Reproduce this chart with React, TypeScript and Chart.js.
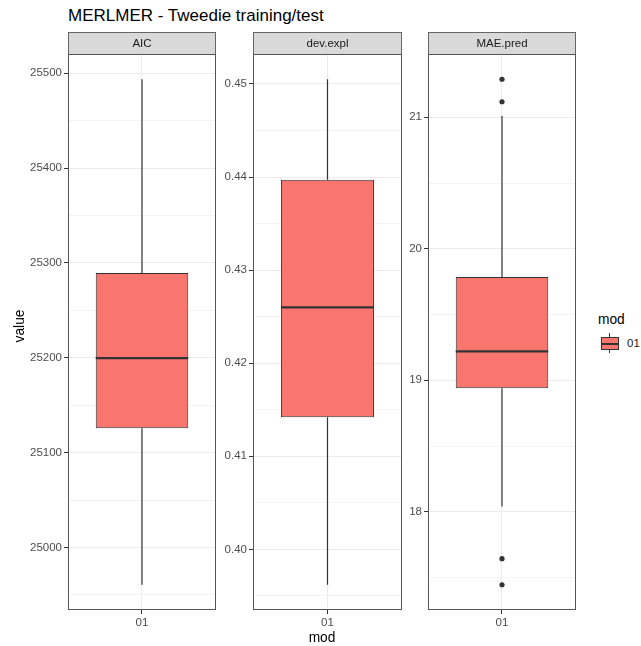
import React, { useEffect, useRef } from 'react';
import { Chart, registerables } from 'chart.js';

Chart.register(...registerables);

// ---------------- data ----------------
const TITLE = 'MERLMER - Tweedie training/test';
const X_TITLE = 'mod';
const Y_TITLE = 'value';
const LEGEND_TITLE = 'mod';
const CATEGORIES = ['01'];
const PANELS = ['AIC', 'dev.expl', 'MAE.pred'];

// [lower whisker, Q1, median, Q3, upper whisker]
const AIC_BOX = [24960.7, 25125.8, 25199.6, 25289.5, 25493.7];
const DEV_BOX = [0.3962, 0.4142, 0.426, 0.4397, 0.4505];
const MAE_BOX = [18.04, 18.94, 19.22, 19.785, 21.01];

const AIC_OUTLIERS: number[] = [];
const DEV_OUTLIERS: number[] = [];
const MAE_OUTLIERS = [17.445, 17.643, 21.118, 21.289];

const AIC_TICKS = [25000, 25100, 25200, 25300, 25400, 25500];
const AIC_MINOR = [24950, 25050, 25150, 25250, 25350, 25450];
const DEV_TICKS = [0.4, 0.41, 0.42, 0.43, 0.44, 0.45];
const DEV_MINOR = [0.395, 0.405, 0.415, 0.425, 0.435, 0.445];
const MAE_TICKS = [18, 19, 20, 21];
const MAE_MINOR = [17.5, 18.5, 19.5, 20.5];
const TICK_DECIMALS = [0, 2, 0];

const BOXES = [AIC_BOX, DEV_BOX, MAE_BOX];
const OUTLIERS = [AIC_OUTLIERS, DEV_OUTLIERS, MAE_OUTLIERS];
const MAJOR_TICKS = [AIC_TICKS, DEV_TICKS, MAE_TICKS];
const MINOR_TICKS = [AIC_MINOR, DEV_MINOR, MAE_MINOR];

// ---------------- layout / style ----------------
const FONT = "'Liberation Sans', Arial, Helvetica, sans-serif";
const FILL = '#F8766D';
const DARK = '#333333';
const PANEL_X = [
  [68, 216],
  [253, 402],
  [428, 577],
];
const PANEL_TOP = 54;
const PANEL_BOTTOM = 610;
const STRIP_H = 22;
const AXIS_W = 54;
const XAXIS_H = 32;
const CANVAS_TOP = 30;
const X_MIN = 0.4;
const X_MAX = 1.6;
const BOX_W = 0.75;
const TICK_FONT = 11.5;

Chart.defaults.font.family = FONT;

const stripPlugin = {
  id: 'strip',
  afterDraw(chart: any, _args: any, opts: any) {
    const { ctx, chartArea: a } = chart;
    const w = a.right - a.left;
    ctx.save();
    ctx.fillStyle = '#d9d9d9';
    ctx.fillRect(a.left, a.top - STRIP_H, w, STRIP_H);
    ctx.strokeStyle = '#666666';
    ctx.lineWidth = 1;
    ctx.strokeRect(Math.round(a.left) + 0.5, Math.round(a.top - STRIP_H) + 0.5, Math.round(w) - 1, STRIP_H);
    ctx.fillStyle = '#1a1a1a';
    ctx.font = `${TICK_FONT}px ${FONT}`;
    ctx.textAlign = 'center';
    ctx.textBaseline = 'middle';
    ctx.fillText(opts.label, (a.left + a.right) / 2, a.top - STRIP_H / 2 + 0.5);
    ctx.strokeStyle = '#555555';
    ctx.strokeRect(Math.round(a.left) + 0.5, Math.round(a.top) + 0.5, Math.round(w) - 1, Math.round(a.bottom - a.top) - 1);
    ctx.restore();
  },
};

function Panel({ idx }: { idx: number }) {
  const ref = useRef<HTMLCanvasElement | null>(null);
  const [x0, x1] = PANEL_X[idx];
  const left = x0 - AXIS_W;
  const width = x1 - left + 3;
  const height = PANEL_BOTTOM + XAXIS_H - CANVAS_TOP;

  useEffect(() => {
    if (!ref.current) return;
    const box = BOXES[idx];
    const out = OUTLIERS[idx];
    const majors = MAJOR_TICKS[idx];
    const minors = MINOR_TICKS[idx];
    const all = [...box, ...out];
    const lo = Math.min(...all);
    const hi = Math.max(...all);
    const pad = (hi - lo) * 0.05;
    const yMin = lo - pad;
    const yMax = hi + pad;
    const tickVals = [...majors, ...minors].filter((v) => v >= yMin && v <= yMax).sort((a, b) => a - b);
    const isMajor = (v: number) => majors.some((m) => Math.abs(m - v) < 1e-9);

    const datasets: any[] = [];
    CATEGORIES.forEach((_c, ci) => {
      const xc = ci + 1;
      const [wl, q1, med, q3, wh] = box;
      datasets.push({
        type: 'line',
        order: 0,
        data: [
          { x: xc - BOX_W / 2, y: med },
          { x: xc + BOX_W / 2, y: med },
        ],
        borderColor: DARK,
        borderWidth: 2.2,
        pointRadius: 0,
      });
      datasets.push({
        type: 'scatter',
        order: 1,
        data: out.map((v) => ({ x: xc, y: v })),
        backgroundColor: DARK,
        borderWidth: 0,
        pointRadius: 2.6,
      });
      datasets.push({
        type: 'line',
        order: 2,
        data: [
          { x: xc, y: q3 },
          { x: xc, y: wh },
        ],
        borderColor: DARK,
        borderWidth: 1.2,
        pointRadius: 0,
      });
      datasets.push({
        type: 'line',
        order: 2,
        data: [
          { x: xc, y: q1 },
          { x: xc, y: wl },
        ],
        borderColor: DARK,
        borderWidth: 1.2,
        pointRadius: 0,
      });
      datasets.push({
        type: 'bar',
        order: 3,
        data: [{ x: xc, y: [q1, q3] }],
        backgroundColor: FILL,
        borderColor: DARK,
        borderWidth: 1,
        borderSkipped: false,
        categoryPercentage: 1,
        barPercentage: BOX_W / (X_MAX - X_MIN),
      });
    });

    const chart = new Chart(ref.current, {
      type: 'bar',
      data: { datasets },
      options: {
        animation: false,
        responsive: false,
        devicePixelRatio: 1,
        layout: { padding: { top: PANEL_TOP - CANVAS_TOP, right: 3, left: 0, bottom: 0 } },
        plugins: {
          legend: { display: false },
          tooltip: { enabled: false },
          strip: { label: PANELS[idx] },
        } as any,
        scales: {
          x: {
            type: 'linear',
            min: X_MIN,
            max: X_MAX,
            offset: false,
            border: { display: false },
            grid: { offset: false, color: '#ebebeb', tickColor: DARK, tickLength: 4, lineWidth: 1 },
            ticks: {
              autoSkip: false,
              padding: 2,
              color: '#4d4d4d',
              font: { size: TICK_FONT },
              callback: (v: any) => {
                const i = Math.round(Number(v)) - 1;
                return CATEGORIES[i] ?? '';
              },
            },
            afterBuildTicks: (s: any) => {
              s.ticks = CATEGORIES.map((_c, i) => ({ value: i + 1 }));
            },
            afterFit: (s: any) => {
              s.height = XAXIS_H;
            },
          },
          y: {
            type: 'linear',
            min: yMin,
            max: yMax,
            beginAtZero: false,
            border: { display: false },
            grid: {
              color: (c: any) => (c.tick && isMajor(c.tick.value) ? '#ebebeb' : '#f4f4f4'),
              tickColor: (c: any) => (c.tick && isMajor(c.tick.value) ? DARK : 'rgba(0,0,0,0)'),
              tickLength: 4,
              lineWidth: 1,
            },
            ticks: {
              autoSkip: false,
              padding: 2,
              color: '#4d4d4d',
              font: { size: TICK_FONT },
              callback: (v: any) => (isMajor(Number(v)) ? Number(v).toFixed(TICK_DECIMALS[idx]) : ''),
            },
            afterBuildTicks: (s: any) => {
              s.ticks = tickVals.map((v) => ({ value: v }));
            },
            afterFit: (s: any) => {
              s.width = AXIS_W;
            },
          },
        },
      } as any,
      plugins: [stripPlugin],
    });
    return () => chart.destroy();
  }, [idx]);

  return (
    <canvas
      ref={ref}
      width={width}
      height={height}
      style={{ position: 'absolute', left, top: CANVAS_TOP, width, height }}
    />
  );
}

export default function App() {
  const text: React.CSSProperties = { position: 'absolute', fontFamily: FONT, whiteSpace: 'nowrap', color: '#000' };
  return (
    <div style={{ position: 'absolute', left: 0, top: 0, width: 641, height: 646, background: '#fff', overflow: 'hidden' }}>
      <div style={{ ...text, left: 68, top: 6, fontSize: 17, lineHeight: '20px' }}>{TITLE}</div>
      {PANELS.map((_p, i) => (
        <Panel key={i} idx={i} />
      ))}
      <div
        style={{
          ...text,
          left: 20 - 30,
          top: 326 - 10,
          width: 60,
          height: 20,
          lineHeight: '20px',
          fontSize: 13.75,
          textAlign: 'center',
          transform: 'rotate(-90deg)',
        }}
      >
        {Y_TITLE}
      </div>
      <div style={{ ...text, left: 322 - 40, top: 628, width: 80, textAlign: 'center', fontSize: 13.75, lineHeight: '20px' }}>
        {X_TITLE}
      </div>
      {/* legend */}
      <div style={{ ...text, left: 598, top: 310, fontSize: 13.75, lineHeight: '20px' }}>{LEGEND_TITLE}</div>
      <div style={{ position: 'absolute', left: 601, top: 333, width: 18, height: 20 }}>
        <div style={{ position: 'absolute', left: 8, top: 0, width: 1, height: 20, background: DARK }} />
        <div
          style={{
            position: 'absolute',
            left: 0,
            top: 4,
            width: 18,
            height: 13,
            boxSizing: 'border-box',
            background: FILL,
            border: `1px solid ${DARK}`,
          }}
        />
        <div style={{ position: 'absolute', left: 0, top: 9.5, width: 18, height: 2, background: DARK }} />
      </div>
      {CATEGORIES.map((c, i) => (
        <div key={c} style={{ ...text, left: 627, top: 336 + i * 20, fontSize: TICK_FONT, lineHeight: '14px', color: '#1a1a1a' }}>
          {c}
        </div>
      ))}
    </div>
  );
}
